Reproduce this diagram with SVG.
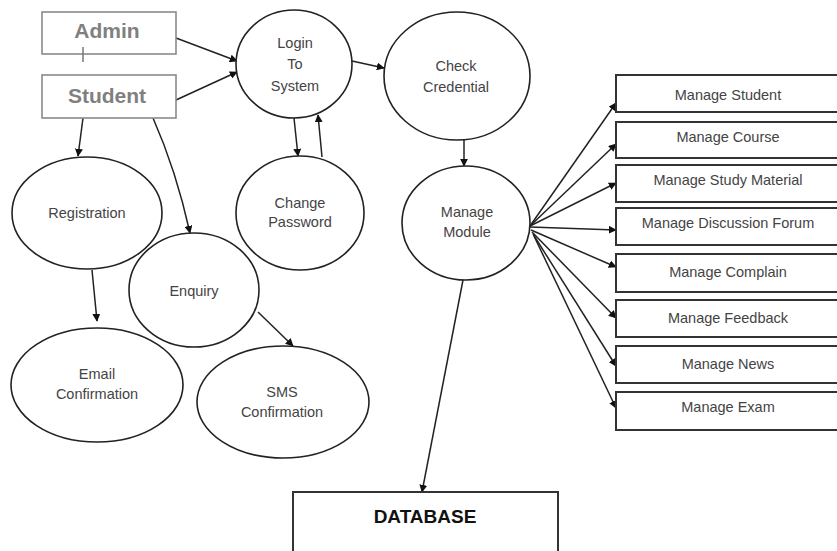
<svg xmlns="http://www.w3.org/2000/svg" width="837" height="551" viewBox="0 0 837 551">
<defs>
<marker id="arr" viewBox="0 0 10 10" refX="9" refY="5" markerWidth="8" markerHeight="8" markerUnits="userSpaceOnUse" orient="auto">
<path d="M0,0 L10,5 L0,10 z" fill="#111"/>
</marker>
<style>
.el{fill:#fff;stroke:#222;stroke-width:1.6}
.box{fill:#fff;stroke:#333;stroke-width:2}
.ext{fill:#fff;stroke:#8a8a8a;stroke-width:1.6}
.t{font-family:"Liberation Sans",Arial,sans-serif;font-size:14.5px;fill:#444;text-anchor:middle;dominant-baseline:central}
.et{font-family:"Liberation Sans",Arial,sans-serif;font-size:21px;font-weight:bold;fill:#808080;text-anchor:middle;dominant-baseline:central}
.db{font-family:"Liberation Sans",Arial,sans-serif;font-size:19px;font-weight:bold;fill:#111;text-anchor:middle;dominant-baseline:central}
.c{fill:none;stroke:#222;stroke-width:1.5;marker-end:url(#arr)}
.p{fill:none;stroke:#777;stroke-width:1.5}
</style>
</defs>
<rect width="837" height="551" fill="#fff"/>

<g id="connectors">
<line class="c" x1="176" y1="38" x2="237" y2="61"/>
<line class="c" x1="176" y1="100" x2="237" y2="72"/>
<line class="c" x1="352" y1="61" x2="384" y2="68"/>
<line class="c" x1="294" y1="118" x2="298" y2="156"/>
<line class="c" x1="322" y1="157" x2="318" y2="115"/>
<line class="c" x1="464" y1="140" x2="464" y2="166"/>
<line class="c" x1="83" y1="118" x2="78" y2="156"/>
<path class="c" d="M153,118 Q176,170 190,233"/>
<line class="c" x1="92" y1="270" x2="97" y2="321"/>
<line class="c" x1="258" y1="312" x2="293" y2="346"/>
<line class="c" x1="530" y1="226" x2="616" y2="103"/>
<line class="c" x1="530" y1="226" x2="616" y2="144"/>
<line class="c" x1="530" y1="226" x2="616" y2="183"/>
<line class="c" x1="530" y1="227" x2="616" y2="230"/>
<line class="c" x1="531" y1="230" x2="616" y2="267"/>
<line class="c" x1="532" y1="232" x2="616" y2="318"/>
<line class="c" x1="533" y1="234" x2="616" y2="366"/>
<line class="c" x1="534" y1="236" x2="616" y2="408"/>
<line class="c" x1="463" y1="280" x2="422" y2="492"/>
</g>

<g id="admin"><rect class="ext" x="42" y="12" width="134" height="42"/><text class="et" x="107" y="30">Admin</text><line class="p" x1="83" y1="47" x2="83" y2="62"/></g>
<g id="student"><rect class="ext" x="42" y="75" width="134" height="43"/><text class="et" x="107" y="95">Student</text></g>

<g id="login"><ellipse class="el" cx="294" cy="64" rx="58" ry="54"/>
<text class="t" x="295" y="43">Login</text><text class="t" x="295" y="64">To</text><text class="t" x="295" y="86">System</text></g>

<g id="check"><ellipse class="el" cx="457" cy="76" rx="73" ry="64"/>
<text class="t" x="456" y="66">Check</text><text class="t" x="456" y="87">Credential</text></g>

<g id="module"><ellipse class="el" cx="466" cy="223" rx="64" ry="57"/>
<text class="t" x="467" y="212">Manage</text><text class="t" x="467" y="232">Module</text></g>

<g id="changepw"><ellipse class="el" cx="300" cy="213" rx="64" ry="57"/>
<text class="t" x="300" y="203">Change</text><text class="t" x="300" y="222">Password</text></g>

<g id="registration"><ellipse class="el" cx="87" cy="213" rx="75" ry="56"/>
<text class="t" x="87" y="213">Registration</text></g>

<g id="enquiry"><ellipse class="el" cx="194" cy="290" rx="65" ry="57"/>
<text class="t" x="194" y="291">Enquiry</text></g>

<g id="email"><ellipse class="el" cx="97" cy="385" rx="86" ry="57"/>
<text class="t" x="97" y="374">Email</text><text class="t" x="97" y="394">Confirmation</text></g>

<g id="sms"><ellipse class="el" cx="283" cy="402" rx="86" ry="56"/>
<text class="t" x="282" y="392">SMS</text><text class="t" x="282" y="412">Confirmation</text></g>

<g id="m-student"><rect class="box" x="616" y="75" width="226" height="37"/><text class="t" x="728" y="95">Manage Student</text></g>
<g id="m-course"><rect class="box" x="616" y="122" width="226" height="36"/><text class="t" x="728" y="137">Manage Course</text></g>
<g id="m-study"><rect class="box" x="616" y="165" width="226" height="37"/><text class="t" x="728" y="180">Manage Study Material</text></g>
<g id="m-forum"><rect class="box" x="616" y="208" width="226" height="37"/><text class="t" x="728" y="223">Manage Discussion Forum</text></g>
<g id="m-complain"><rect class="box" x="616" y="254" width="226" height="38"/><text class="t" x="728" y="272">Manage Complain</text></g>
<g id="m-feedback"><rect class="box" x="616" y="300" width="226" height="37"/><text class="t" x="728" y="318">Manage Feedback</text></g>
<g id="m-news"><rect class="box" x="616" y="346" width="226" height="37"/><text class="t" x="728" y="364">Manage News</text></g>
<g id="m-exam"><rect class="box" x="616" y="392" width="226" height="38"/><text class="t" x="728" y="407">Manage Exam</text></g>

<g id="database"><rect class="box" x="293" y="492" width="265" height="70"/><text class="db" x="425" y="516">DATABASE</text></g>
</svg>
